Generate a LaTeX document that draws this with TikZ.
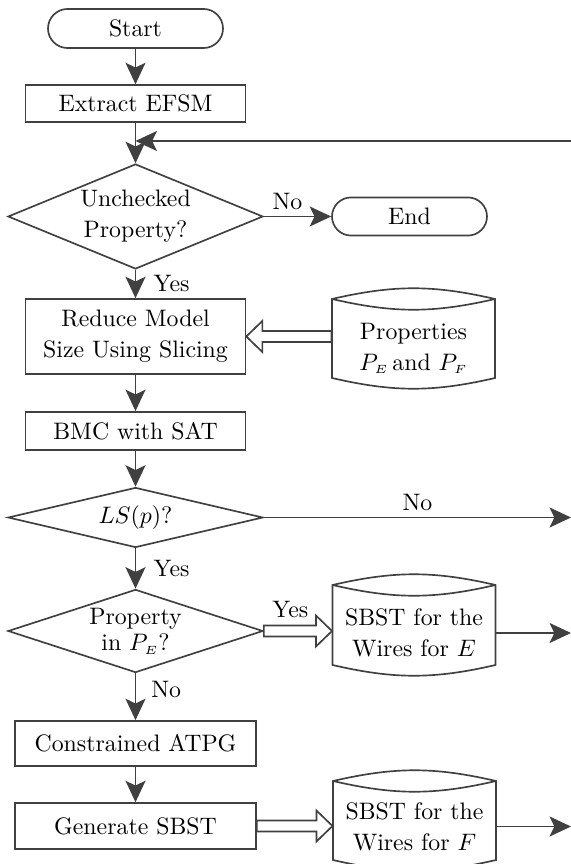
\documentclass[tikz,border=0pt]{standalone}
\usetikzlibrary{arrows.meta,shapes.geometric,shapes.misc,calc}
\definecolor{ln}{RGB}{64,64,64}
\newcommand\cylshape[3]{%
  \draw[draw=ln, line width=0.7pt] ($(#1.center)+(-81.5,#2)$) coordinate (#1tl)
    to[bend left=13] ($(#1.center)+(81.5,#2)$) coordinate (#1tr)
    -- ($(#1.center)+(81.5,#3)$) coordinate (#1br)
    to[bend left=13] ($(#1.center)+(-81.5,#3)$) coordinate (#1bl) -- cycle;
  \draw[draw=ln, line width=0.7pt] (#1tl) to[bend right=13] (#1tr);}
\newcommand\hollowarr[3]{%
  \draw[hol] (#1) -- ($(#1)+(#3*16,-15.5)$) -- ($(#1)+(#3*16,-5.5)$)
    -- ($(#2)+(0,-5.5)$) -- ($(#2)+(0,5.5)$) -- ($(#1)+(#3*16,5.5)$)
    -- ($(#1)+(#3*16,15.5)$) -- cycle;}
\newcommand\sub[1]{_{\scriptscriptstyle #1}}
\begin{document}
\begin{tikzpicture}[x=0.42pt,y=-0.42pt,
  every node/.style={font=\fontsize{10}{13}\selectfont, align=center, text=black},
  box/.style={draw=ln, line width=0.7pt, rectangle, minimum width=92.4pt, inner sep=0pt},
  term/.style={draw=ln, line width=0.7pt, rounded rectangle, inner sep=0pt},
  dec/.style={draw=ln, line width=0.7pt, diamond, inner sep=0pt, minimum width=107.1pt},
  cyl/.style={minimum width=68.5pt, inner sep=0pt},
  arr/.style={draw=ln, line width=0.7pt, -{Stealth[length=9pt,width=8.4pt,inset=2pt]}},
  hol/.style={draw=ln, line width=0.7pt, fill=white, line join=miter},
  lbl/.style={inner sep=2.3pt}
]
\useasboundingbox (0,0) rectangle (571,864);

\node[term, minimum width=73.5pt, minimum height=16.4pt] (start) at (135.5,28.5) {Start};
\node[box, minimum height=15.5pt] (extract) at (135.5,103.5) {Extract EFSM};
\coordinate (loopR) at (571,141);
\coordinate (join) at (extract.south |- loopR);
\coordinate (rEdge) at (571,0);
\node[dec, aspect=2.43, minimum height=44.1pt] (unchk) at (135.5,216.5) {Unchecked\\Property?};
\node[term, minimum width=65.1pt, minimum height=16pt] (end) at (409.5,216.5) {End};
\node[box, minimum height=31.5pt] (reduce) at (135.5,336.5) {Reduce Model\\Size Using Slicing};
\node[cyl] (props) at (413.5,348.5) {Properties\\$P\sub{E}$\,and $P\sub{F}$};
\node[box, minimum height=16pt] (bmc) at (135.5,431) {BMC with SAT};
\node[dec, aspect=4.25, minimum height=25.2pt] (ls) at (135.5,517.5) {$LS(p)$?};
\node[dec, aspect=3.07, minimum height=34.9pt, font=\fontsize{10}{11}\selectfont] (pin) at (135.5,631) {Property\\in $P\sub{E}$?};
\node[cyl] (sbstE) at (414,633) {SBST for the\\Wires for $E$};
\node[box, minimum width=101.2pt, minimum height=18.9pt] (constr) at (135.5,743.5) {Constrained ATPG};
\node[box, minimum width=101.2pt, minimum height=19.3pt] (gen) at (135.5,826) {Generate SBST};
\node[cyl] (sbstF) at (414.5,826.5) {SBST for the\\Wires for $F$};

\cylshape{props}{-49.5}{29.5}
\cylshape{sbstE}{-48}{32}
\cylshape{sbstF}{-45.5}{33.5}

\draw[arr] (start.south) -- (extract.north);
\draw[arr] (extract.south) -- (unchk.north);
\draw[arr] (loopR) -- (join);
\draw[arr] (unchk.east) -- node[lbl, above, pos=0.35] {No} (end.west);
\draw[arr] (unchk.south) -- node[lbl, right, xshift=5pt] {Yes} (reduce.north);
\draw[arr] (reduce.south) -- (bmc.north);
\draw[arr] (bmc.south) -- (ls.north);
\draw[arr] (ls.east) -- node[lbl, above] {No} (ls.east -| rEdge);
\draw[arr] (ls.south) -- node[lbl, right, xshift=5pt] {Yes} (pin.north);
\draw[arr] (pin.south) -- node[lbl, right, xshift=4pt, pos=0.35] {No} (constr.north);
\draw[arr] (constr.south) -- (gen.north);
\draw[arr] (sbstE.east) -- (sbstE.east -| rEdge);
\draw[arr] (sbstF.east) -- (sbstF.east -| rEdge);

\coordinate (h1tail) at (props.west |- reduce.east);
\coordinate (h2tip) at (sbstE.west |- pin.east);
\coordinate (h3tip) at (sbstF.west |- gen.east);
\hollowarr{reduce.east}{h1tail}{1}
\hollowarr{h2tip}{pin.east}{-1}
\hollowarr{h3tip}{gen.east}{-1}
\node[lbl, anchor=base] at ($(pin.east)+(26.5,-13.5)$) {Yes};
\end{tikzpicture}
\end{document}
